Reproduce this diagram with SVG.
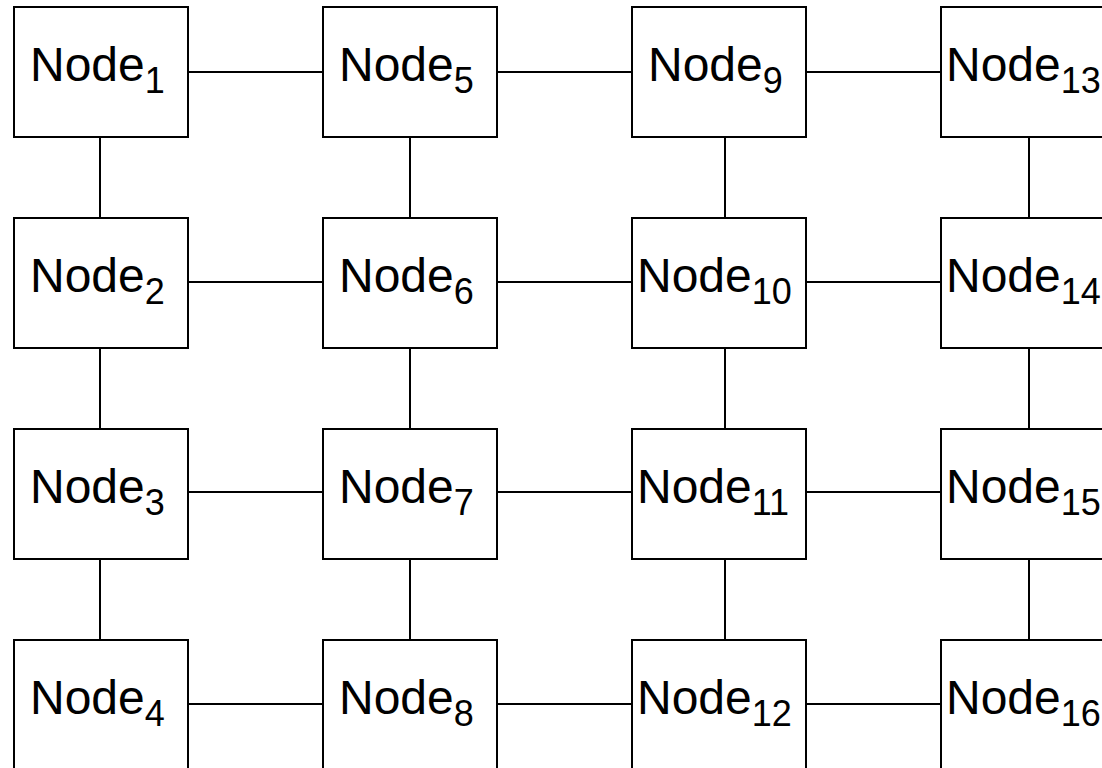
<svg xmlns="http://www.w3.org/2000/svg" width="1102" height="768" viewBox="0 0 1102 768">
  <style>
    .box { fill: #ffffff; stroke: #000000; stroke-width: 2; }
    .link { stroke: #000000; stroke-width: 2; fill: none; }
    .label { font-family: "Liberation Sans", Arial, sans-serif; font-size: 48px; fill: #000000; }
    .sub { font-size: 36px; }
  </style>
  <rect x="0" y="0" width="1102" height="768" fill="#ffffff"/>

  <!-- links between neighbouring nodes -->
  <g id="connectors">
    <!-- horizontal links -->
    <line class="link" x1="188" y1="72" x2="323" y2="72"/>
    <line class="link" x1="497" y1="72" x2="632" y2="72"/>
    <line class="link" x1="806" y1="72" x2="941" y2="72"/>
    <line class="link" x1="188" y1="282" x2="323" y2="282"/>
    <line class="link" x1="497" y1="282" x2="632" y2="282"/>
    <line class="link" x1="806" y1="282" x2="941" y2="282"/>
    <line class="link" x1="188" y1="492" x2="323" y2="492"/>
    <line class="link" x1="497" y1="492" x2="632" y2="492"/>
    <line class="link" x1="806" y1="492" x2="941" y2="492"/>
    <line class="link" x1="188" y1="704" x2="323" y2="704"/>
    <line class="link" x1="497" y1="704" x2="632" y2="704"/>
    <line class="link" x1="806" y1="704" x2="941" y2="704"/>
    <!-- vertical links -->
    <line class="link" x1="100" y1="137" x2="100" y2="218"/>
    <line class="link" x1="100" y1="348" x2="100" y2="429"/>
    <line class="link" x1="100" y1="559" x2="100" y2="640"/>
    <line class="link" x1="410" y1="137" x2="410" y2="218"/>
    <line class="link" x1="410" y1="348" x2="410" y2="429"/>
    <line class="link" x1="410" y1="559" x2="410" y2="640"/>
    <line class="link" x1="725" y1="137" x2="725" y2="218"/>
    <line class="link" x1="725" y1="348" x2="725" y2="429"/>
    <line class="link" x1="725" y1="559" x2="725" y2="640"/>
    <line class="link" x1="1029" y1="137" x2="1029" y2="218"/>
    <line class="link" x1="1029" y1="348" x2="1029" y2="429"/>
    <line class="link" x1="1029" y1="559" x2="1029" y2="640"/>
  </g>

  <!-- column 1 -->
  <g id="node1"><rect class="box" x="14" y="7" width="174" height="130"/><text class="label" x="30" y="81">Node<tspan class="sub" dy="12">1</tspan></text></g>
  <g id="node2"><rect class="box" x="14" y="218" width="174" height="130"/><text class="label" x="30" y="292">Node<tspan class="sub" dy="12">2</tspan></text></g>
  <g id="node3"><rect class="box" x="14" y="429" width="174" height="130"/><text class="label" x="30" y="503">Node<tspan class="sub" dy="12">3</tspan></text></g>
  <g id="node4"><rect class="box" x="14" y="640" width="174" height="130"/><text class="label" x="30" y="714">Node<tspan class="sub" dy="12">4</tspan></text></g>

  <!-- column 2 -->
  <g id="node5"><rect class="box" x="323" y="7" width="174" height="130"/><text class="label" x="339" y="81">Node<tspan class="sub" dy="12">5</tspan></text></g>
  <g id="node6"><rect class="box" x="323" y="218" width="174" height="130"/><text class="label" x="339" y="292">Node<tspan class="sub" dy="12">6</tspan></text></g>
  <g id="node7"><rect class="box" x="323" y="429" width="174" height="130"/><text class="label" x="339" y="503">Node<tspan class="sub" dy="12">7</tspan></text></g>
  <g id="node8"><rect class="box" x="323" y="640" width="174" height="130"/><text class="label" x="339" y="714">Node<tspan class="sub" dy="12">8</tspan></text></g>

  <!-- column 3 -->
  <g id="node9"><rect class="box" x="632" y="7" width="174" height="130"/><text class="label" x="648" y="81">Node<tspan class="sub" dy="12">9</tspan></text></g>
  <g id="node10"><rect class="box" x="632" y="218" width="174" height="130"/><text class="label" x="637" y="292">Node<tspan class="sub" dy="12">10</tspan></text></g>
  <g id="node11"><rect class="box" x="632" y="429" width="174" height="130"/><text class="label" x="637" y="503">Node<tspan class="sub" dy="12">11</tspan></text></g>
  <g id="node12"><rect class="box" x="632" y="640" width="174" height="130"/><text class="label" x="637" y="714">Node<tspan class="sub" dy="12">12</tspan></text></g>

  <!-- column 4 -->
  <g id="node13"><rect class="box" x="941" y="7" width="174" height="130"/><text class="label" x="946" y="81">Node<tspan class="sub" dy="12">13</tspan></text></g>
  <g id="node14"><rect class="box" x="941" y="218" width="174" height="130"/><text class="label" x="946" y="292">Node<tspan class="sub" dy="12">14</tspan></text></g>
  <g id="node15"><rect class="box" x="941" y="429" width="174" height="130"/><text class="label" x="946" y="503">Node<tspan class="sub" dy="12">15</tspan></text></g>
  <g id="node16"><rect class="box" x="941" y="640" width="174" height="130"/><text class="label" x="946" y="714">Node<tspan class="sub" dy="12">16</tspan></text></g>
</svg>
